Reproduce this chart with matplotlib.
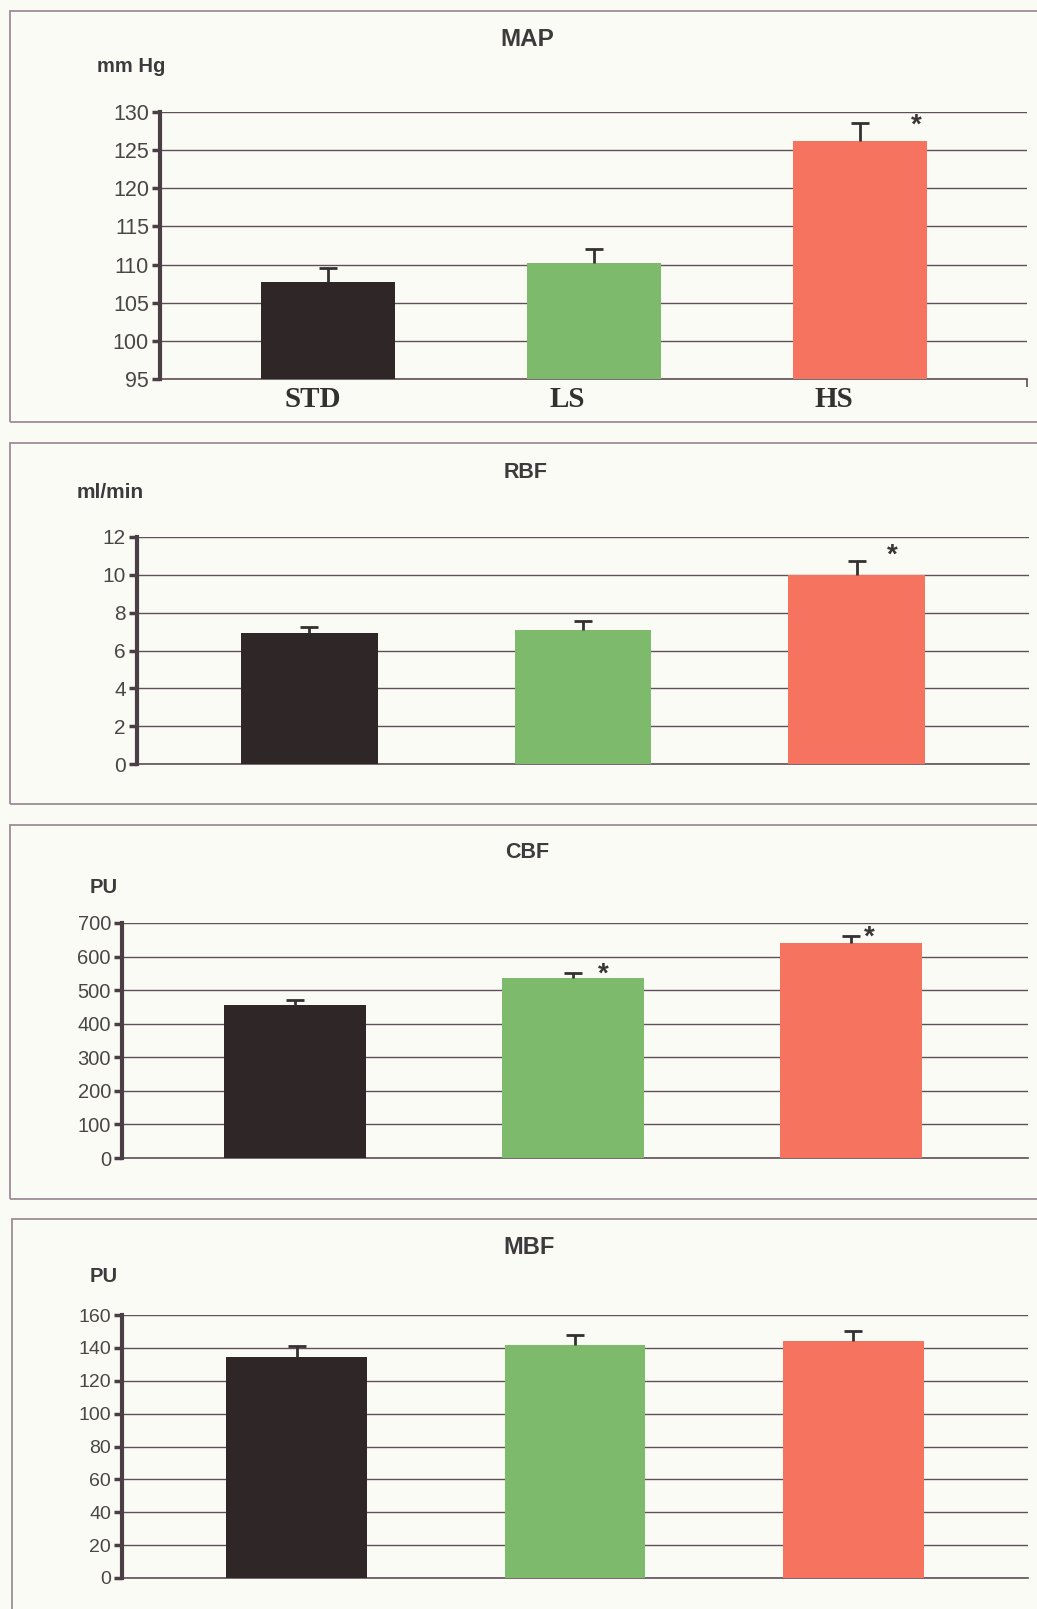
import matplotlib.pyplot as plt
import numpy as np
from matplotlib.patches import Rectangle

groups = ['STD', 'LS', 'HS']
bar_colors = ['#2e2627', '#7dba6b', '#f5735f']

map_mean = [107.7, 110.2, 126.2]
map_err = [1.9, 1.8, 2.4]
map_sig = [False, False, True]

rbf_mean = [6.95, 7.1, 10.0]
rbf_err = [0.27, 0.47, 0.74]
rbf_sig = [False, False, True]

cbf_mean = [457, 537, 641]
cbf_err = [15, 15, 21]
cbf_sig = [False, True, True]

mbf_mean = [134.5, 141.7, 144.3]
mbf_err = [6.7, 6.1, 6.0]
mbf_sig = [False, False, False]

W, H = 1037, 1609
BG = '#fbfbf6'
GRID = '#5e5058'
FRAME = '#9c8c98'
TXT = '#3c3a3c'
INK = '#353031'

fig = plt.figure(figsize=(W / 100, H / 100), dpi=100, facecolor=BG)


def box(l, t, r, b):
    return [l / W, 1 - b / H, (r - l) / W, (b - t) / H]


# outer frames round each chart (right side runs off the page)
for top, bot, left in [(11, 422, 10), (443, 804, 10), (825, 1199, 10), (1219, 1640, 12)]:
    fig.patches.append(Rectangle((left / W, 1 - bot / H), 1.2, (bot - top) / H,
                                 transform=fig.transFigure, fill=False,
                                 edgecolor=FRAME, linewidth=1.3))

panels = [
    dict(title='MAP', unit='mm Hg', mean=map_mean, err=map_err, sig=map_sig,
         rect=(160, 112, 1027, 379), xlim=(-0.632, 2.628), ylim=(95, 130), step=5,
         width=0.504, tsize=17.5, tfs=15.5, ufs=14.5, title_xy=(527, 40), unit_xy=(97, 66),
         star_off=[(0, 0), (0, 0), (56, -3)], xlabels=True),
    dict(title='RBF', unit='ml/min', mean=rbf_mean, err=rbf_err, sig=rbf_sig,
         rect=(137, 537, 1029, 764), xlim=(-0.628, 2.628), ylim=(0, 12), step=2,
         width=0.5, tsize=15.5, tfs=15, ufs=15, title_xy=(526, 472), unit_xy=(77, 492),
         star_off=[(0, 0), (0, 0), (35, 5)], xlabels=False),
    dict(title='CBF', unit='PU', mean=cbf_mean, err=cbf_err, sig=cbf_sig,
         rect=(122, 923, 1028, 1158), xlim=(-0.622, 2.637), ylim=(0, 700), step=100,
         width=0.51, tsize=15.5, tfs=14.5, ufs=14.5, title_xy=(527, 853), unit_xy=(90, 887),
         star_off=[(0, 0), (30, -2), (18, -2)], xlabels=False),
    dict(title='MBF', unit='PU', mean=mbf_mean, err=mbf_err, sig=mbf_sig,
         rect=(122, 1315, 1028, 1578), xlim=(-0.627, 2.627), ylim=(0, 160), step=20,
         width=0.506, tsize=17, tfs=14, ufs=14.5, title_xy=(529, 1247), unit_xy=(90, 1277),
         star_off=[(0, 0), (0, 0), (0, 0)], xlabels=False),
]

x = np.arange(len(groups))

for p in panels:
    ax = fig.add_axes(box(*p['rect']))
    ax.set_facecolor('none')
    ax.bar(x, p['mean'], width=p['width'], color=bar_colors, zorder=2)
    tops = np.array(p['mean']) + np.array(p['err'])
    # upper error bars only: stem plus a cap at the top
    ax.vlines(x, p['mean'], tops, color=INK, linewidth=2, zorder=3)
    ax.plot(x, tops, linestyle='none', marker='_', markersize=13,
            markeredgewidth=2, color=INK, zorder=3)
    for xi, t, s, off in zip(x, tops, p['sig'], p['star_off']):
        if s:
            ax.annotate('*', (xi, t), xytext=off, textcoords='offset pixels',
                        ha='center', va='center', fontsize=20, fontweight='bold',
                        color='#3a3636', family='Liberation Sans', zorder=4)
    ax.set_xlim(*p['xlim'])
    ax.set_ylim(*p['ylim'])
    ticks = np.arange(p['ylim'][0], p['ylim'][1] + p['step'] / 2, p['step'])
    ax.set_yticks(ticks)
    ax.set_yticklabels([f'{t:g}' for t in ticks], family='Liberation Sans',
                       fontsize=p['tfs'], color='#4a4648')
    ax.yaxis.grid(True, color=GRID, linewidth=1.0, zorder=0)
    ax.axhline(p['ylim'][0], color=GRID, linewidth=1.2, clip_on=False, zorder=1)
    ax.set_axisbelow(True)
    for side in ['top', 'right', 'bottom']:
        ax.spines[side].set_visible(False)
    ax.spines['left'].set_linewidth(3)
    ax.spines['left'].set_color('#4a3f45')
    ax.tick_params(axis='y', length=6, width=2.5, color='#4a3f45', pad=2)
    if p['xlabels']:
        ax.set_xticks(x + np.array([-0.056, -0.10, -0.10]))
        ax.set_xticklabels(groups, family='Liberation Serif', fontweight='bold',
                           fontsize=21, color='#333030')
        ax.tick_params(axis='x', length=0, pad=5)
        ax.set_xticks([p['xlim'][1]], minor=True)
        ax.tick_params(axis='x', which='minor', length=6, width=1.2, color=GRID)
    else:
        ax.set_xticks([])
    fig.text(p['title_xy'][0] / W, 1 - p['title_xy'][1] / H, p['title'],
             ha='center', va='center', fontsize=p['tsize'], fontweight='bold',
             family='Liberation Sans', color=TXT)
    fig.text(p['unit_xy'][0] / W, 1 - p['unit_xy'][1] / H, p['unit'],
             ha='left', va='center', fontsize=p['ufs'], fontweight='bold',
             family='Liberation Sans', color=TXT)

fig.savefig('out.png', dpi=100, facecolor=BG)
